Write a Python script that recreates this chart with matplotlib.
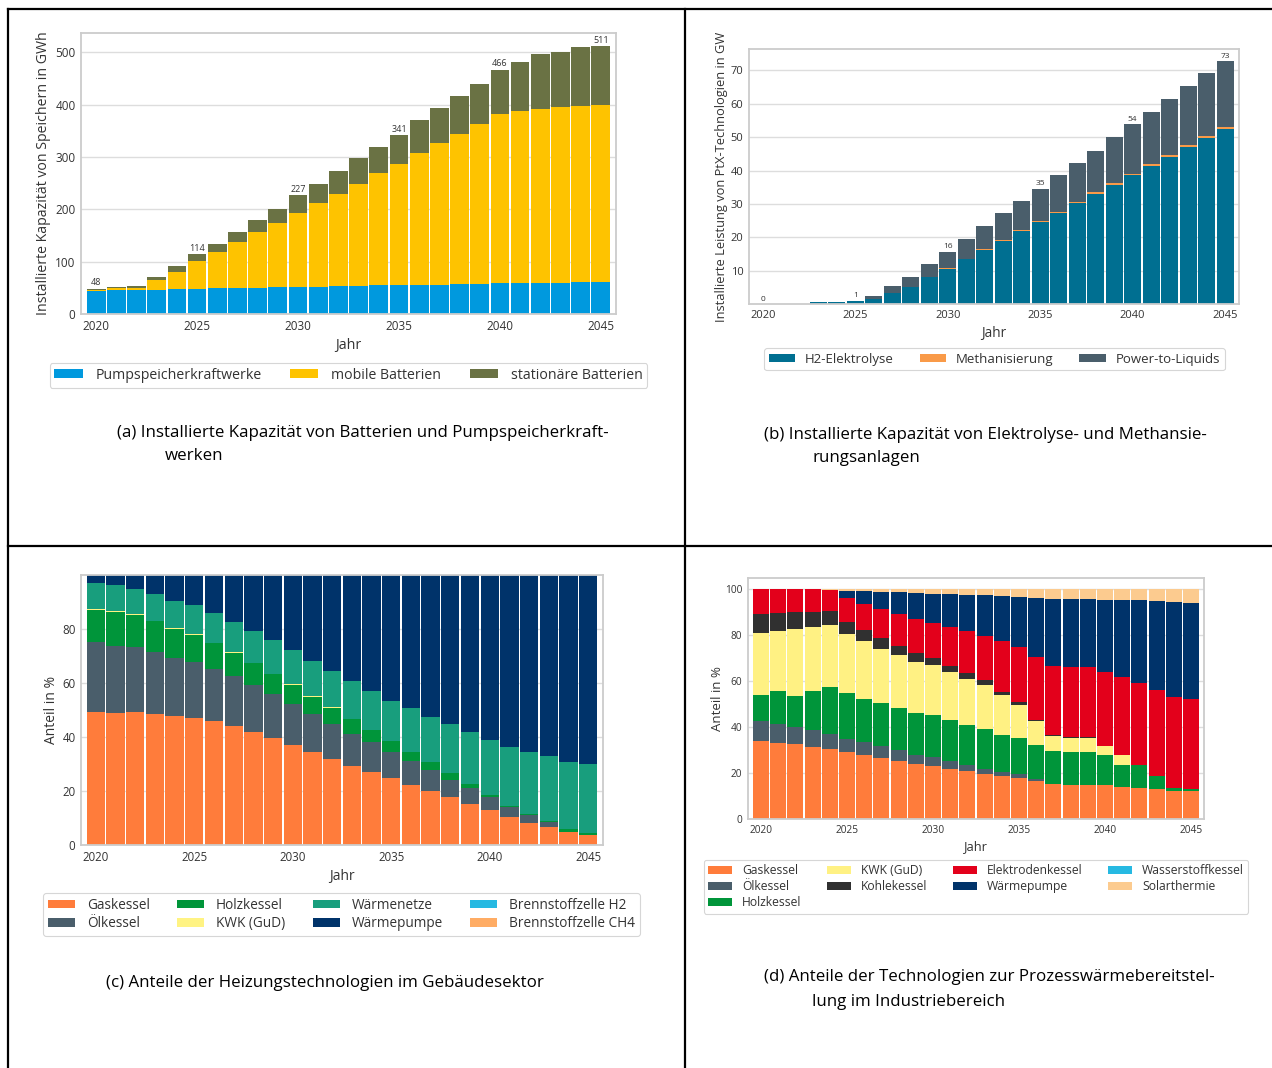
import matplotlib
matplotlib.use("Agg")
import matplotlib.pyplot as plt
import numpy as np
from matplotlib.lines import Line2D

plt.rcParams['font.family'] = ['Open Sans', 'DejaVu Sans']
TXT = '#333333'
plt.rcParams['text.color'] = TXT
plt.rcParams['axes.labelcolor'] = TXT
plt.rcParams['xtick.color'] = TXT
plt.rcParams['ytick.color'] = TXT

years = list(range(2020, 2046))
label_years = [2020, 2025, 2030, 2035, 2040, 2045]

# ---- (a) storage capacity in GWh
a_names = ['Pumpspeicherkraftwerke', 'mobile Batterien', 'stationäre Batterien']
a_pump = [44, 45, 46, 46, 47, 48, 49, 50, 50, 51, 51, 52, 53, 54, 55, 56, 56, 56, 58, 58, 59, 59, 60, 60, 61, 62]
a_mobile = [2, 4, 4, 18, 34, 53, 70, 87, 106, 123, 141, 159, 177, 195, 214, 231, 251, 270, 285, 304, 323, 329, 332, 335, 336, 338]
a_stat = [2, 2, 4, 7, 10, 13, 15, 20, 23, 27, 35, 38, 43, 48, 50, 54, 64, 67, 73, 78, 84, 93, 104, 106, 113, 111]
a_colors = ['#0099de', '#fec300', '#6a7244']

# ---- (b) PtX capacity in GW
b_names = ['H2-Elektrolyse', 'Methanisierung', 'Power-to-Liquids']
b_h2 = [0, 0, 0, 0.5, 0.7, 0.9, 1.6, 3.2, 5.2, 8.0, 10.6, 13.4, 16.2, 19.0, 21.8, 24.5, 27.3, 30.2, 33.1, 35.8, 38.6, 41.4, 44.2, 47.0, 49.8, 52.5]
b_meth = [0, 0, 0, 0, 0, 0, 0, 0, 0, 0, 0.2, 0.2, 0.2, 0.3, 0.3, 0.3, 0.3, 0.4, 0.4, 0.4, 0.5, 0.5, 0.5, 0.6, 0.6, 0.7]
b_ptl = [0, 0, 0, 0, 0, 0.1, 0.9, 2.1, 3.0, 3.9, 4.9, 6.0, 7.0, 8.0, 8.8, 9.8, 11.0, 11.7, 12.5, 13.9, 14.8, 15.8, 16.8, 17.7, 18.7, 19.6]
b_colors = ['#006f91', '#f99a48', '#4a5e6b']

# ---- (c) heating technologies in buildings, %
c_names = ['Gaskessel', 'Ölkessel', 'Holzkessel', 'KWK (GuD)', 'Wärmenetze', 'Wärmepumpe',
           'Brennstoffzelle H2', 'Brennstoffzelle CH4']
c_gas = [49.2, 49.0, 49.4, 48.6, 47.8, 47.1, 45.8, 43.9, 41.8, 39.6, 37.2, 34.5, 31.9, 29.4, 27.1, 24.7, 22.2, 19.9, 17.7, 15.3, 13.0, 10.3, 8.2, 6.8, 4.8, 3.6]
c_oel = [25.9, 24.8, 23.8, 22.8, 21.5, 20.7, 19.4, 18.6, 17.6, 16.2, 15.1, 14.1, 13.0, 11.8, 11.1, 9.8, 8.9, 8.0, 6.5, 5.7, 4.7, 3.7, 2.8, 1.7, 0, 0]
c_holz = [11.9, 12.6, 12.0, 11.4, 10.7, 10.1, 9.6, 8.6, 8.0, 7.6, 7.1, 6.4, 5.9, 5.4, 4.3, 4.1, 3.4, 2.7, 2.3, 1.5, 0.9, 0.4, 0.4, 0.5, 1.0, 0.7]
c_kwk = [0.3, 0.1, 0.4, 0.1, 0.2, 0.3, 0.2, 0.3, 0.1, 0.1, 0.1, 0.3, 0.2, 0.2, 0.1, 0.1, 0.1, 0.1, 0.1, 0, 0, 0, 0, 0, 0, 0]
c_netz = [9.6, 9.7, 9.3, 10.1, 10.3, 10.7, 10.9, 11.3, 11.9, 12.4, 12.7, 13.0, 13.6, 14.0, 14.6, 14.8, 16.0, 16.8, 18.1, 19.3, 20.4, 21.9, 23.1, 24.0, 25.1, 25.6]
c_wp = [3.1, 3.8, 5.1, 7.0, 9.5, 11.1, 14.1, 17.3, 20.6, 24.1, 27.8, 31.7, 35.4, 39.2, 42.8, 46.5, 49.4, 52.5, 55.3, 58.2, 61.0, 63.7, 65.5, 67.0, 69.1, 70.1]
c_bzh2 = [0] * 26
c_bzch4 = [0] * 26
c_colors = ['#ff7c3b', '#4a5e6b', '#00953a', '#fff383', '#189e7d', '#00336a', '#26b9e2', '#ffac64']

# ---- (d) process heat in industry, %
d_names = ['Gaskessel', 'Ölkessel', 'Holzkessel', 'KWK (GuD)', 'Kohlekessel', 'Elektrodenkessel',
           'Wärmepumpe', 'Wasserstoffkessel', 'Solarthermie']
d_gas = [33.9, 33.2, 32.5, 31.3, 30.4, 29.0, 27.8, 26.5, 25.3, 23.9, 23.1, 21.7, 20.7, 19.4, 18.6, 17.9, 16.4, 15.3, 15.0, 15.0, 14.6, 14.0, 13.7, 13.2, 12.1, 12.1]
d_oel = [8.7, 8.1, 7.5, 7.3, 6.7, 5.9, 5.8, 5.2, 4.7, 4.2, 4.0, 3.6, 2.9, 2.6, 1.9, 1.5, 1.2, 0, 0, 0, 0, 0, 0, 0, 0, 0]
d_holz = [11.3, 14.4, 13.7, 17.0, 20.4, 20.0, 18.9, 18.7, 18.2, 17.9, 18.2, 17.9, 17.3, 17.0, 16.3, 15.7, 14.6, 14.2, 14.3, 14.3, 13.2, 9.7, 9.7, 5.7, 1.4, 1.1]
d_kwk = [27.0, 26.4, 29.1, 28.1, 27.1, 25.6, 24.9, 23.8, 23.1, 22.6, 21.7, 20.7, 20.1, 19.5, 17.2, 14.5, 10.4, 6.6, 6.1, 6.1, 3.8, 4.0, 0, 0, 0, 0]
d_kohle = [8.5, 7.6, 7.2, 6.5, 6.2, 5.5, 5.0, 4.7, 4.2, 3.6, 3.0, 2.9, 2.6, 1.9, 1.5, 1.2, 0.5, 0.3, 0.3, 0.3, 0, 0, 0, 0, 0, 0]
d_elek = [10.6, 10.3, 10.0, 9.8, 9.0, 10.4, 11.3, 12.5, 13.9, 14.8, 15.6, 17.0, 18.4, 19.5, 22.2, 24.2, 27.6, 30.4, 30.5, 30.7, 32.3, 34.0, 35.8, 37.4, 39.6, 39.1]
d_wp = [0, 0, 0, 0, 0, 2.9, 5.7, 7.4, 9.4, 11.5, 12.5, 14.2, 15.8, 17.6, 19.4, 21.8, 25.7, 29.1, 29.6, 29.4, 31.4, 33.6, 36.1, 38.7, 41.5, 42.0]
d_h2 = [0] * 26
d_solar = [0, 0, 0, 0, 0.2, 0.7, 0.6, 1.2, 1.2, 1.5, 1.9, 2.0, 2.2, 2.5, 2.9, 3.2, 3.6, 4.1, 4.2, 4.2, 4.7, 4.7, 4.7, 5.0, 5.4, 5.7]
d_colors = ['#ff7c3b', '#4a5e6b', '#00953a', '#fff183', '#303030', '#e3001b', '#00336a', '#26b9e2', '#fccb8f']

captions = {
    'a': ['(a) Installierte Kapazität von Batterien und Pumpspeicherkraft-', 'werken'],
    'b': ['(b) Installierte Kapazität von Elektrolyse- und Methansie-', 'rungsanlagen'],
    'c': ['(c) Anteile der Heizungstechnologien im Gebäudesektor'],
    'd': ['(d) Anteile der Technologien zur Prozesswärmebereitstel-', 'lung im Industriebereich'],
}

W, H = 1272, 1068
fig = plt.figure(figsize=(W / 100, H / 100), dpi=100)


def add_ax(l, t, r, b):
    return fig.add_axes([l / W, 1 - b / H, (r - l) / W, (b - t) / H])


def style(ax, tick_fs):
    for s in ax.spines.values():
        s.set_color('#cccccc')
        s.set_linewidth(1.3)
    ax.set_axisbelow(True)
    ax.yaxis.grid(True, color='#dddddd', linewidth=1.0)
    ax.xaxis.grid(False)
    ax.tick_params(length=0, labelsize=tick_fs, pad=4)
    ax.set_xlim(2019.25, 2045.75)
    ax.set_xticks(label_years)


def stack(ax, series, colors, names):
    bottom = np.zeros(len(years))
    for vals, col, nm in zip(series, colors, names):
        v = np.array(vals, dtype=float)
        ax.bar(years, v, bottom=bottom, width=0.93, color=col, edgecolor='none',
               linewidth=0, label=nm)
        bottom = bottom + v
    return bottom


def legend(ax, ncol, cx, top, fs, handlelen=2.0, colsp=2.0, htp=0.85, lsp=0.3):
    leg = ax.legend(loc='upper center', bbox_to_anchor=(cx / W, 1 - top / H),
                    bbox_transform=fig.transFigure, ncol=ncol, fontsize=fs,
                    frameon=True, handlelength=handlelen, handleheight=0.6,
                    columnspacing=colsp, borderaxespad=0, borderpad=0.35,
                    labelspacing=lsp, handletextpad=htp)
    leg.get_frame().set_edgecolor('#cccccc')
    leg.get_frame().set_linewidth(0.8)
    return leg


# ---------------- panel a
ax = add_ax(81, 33, 616, 314)
style(ax, 8.5)
tot = stack(ax, [a_pump, a_mobile, a_stat], a_colors, a_names)
ax.set_ylim(0, tot.max() * 1.05)
ax.set_yticks([0, 100, 200, 300, 400, 500])
for yv in label_years:
    i = years.index(yv)
    ax.text(yv, tot[i] + 3, f'{tot[i]:.0f}', ha='center', va='bottom', fontsize=6.5)
ax.set_xlabel('Jahr', fontsize=10.3, labelpad=4)
ax.set_ylabel('Installierte Kapazität von Speichern in GWh', fontsize=10.2)
ax.yaxis.set_label_coords(-0.056, 0.5)
legend(ax, 3, 348.5, 363, 10.2, colsp=2.0, htp=0.9)

# ---------------- panel b
ax = add_ax(749, 49, 1239, 304)
style(ax, 8)
tot = stack(ax, [b_h2, b_meth, b_ptl], b_colors, b_names)
ax.set_ylim(0, tot.max() * 1.05)
ax.set_yticks([10, 20, 30, 40, 50, 60, 70])
for yv in label_years:
    i = years.index(yv)
    ax.text(yv, tot[i] + 0.4, f'{tot[i]:.0f}', ha='center', va='bottom', fontsize=6)
ax.set_xlabel('Jahr', fontsize=9.8, labelpad=4)
ax.set_ylabel('Installierte Leistung von PtX-Technologien in GW', fontsize=9.3)
ax.yaxis.set_label_coords(-0.043, 0.5)
legend(ax, 3, 994.5, 348, 9.5, colsp=1.95, htp=0.75)

# ---------------- panel c
ax = add_ax(81, 575, 603, 845)
style(ax, 8.3)
stack(ax, [c_gas, c_oel, c_holz, c_kwk, c_netz, c_wp, c_bzh2, c_bzch4], c_colors, c_names)
ax.set_ylim(0, 100)
ax.set_yticks([0, 20, 40, 60, 80])
ax.set_xlabel('Jahr', fontsize=10, labelpad=4)
ax.set_ylabel('Anteil in %', fontsize=10)
ax.yaxis.set_label_coords(-0.042, 0.5)
legend(ax, 4, 341.5, 893, 9.8, colsp=2.0, htp=0.87, lsp=0.25)

# ---------------- panel d
ax = add_ax(748, 578, 1204, 819)
style(ax, 7.3)
stack(ax, [d_gas, d_oel, d_holz, d_kwk, d_kohle, d_elek, d_wp, d_h2, d_solar], d_colors, d_names)
ax.set_ylim(0, 105)
ax.set_yticks([0, 20, 40, 60, 80, 100])
ax.set_xlabel('Jahr', fontsize=9.3, labelpad=3)
ax.set_ylabel('Anteil in %', fontsize=9.5)
ax.yaxis.set_label_coords(-0.052, 0.5)
legend(ax, 4, 976, 860, 8.7, colsp=2.1, htp=0.83, lsp=0.25)

# ---------------- captions
cap_fs = 12.2
fig.text(117 / W, 1 - 433 / H, captions['a'][0], fontsize=cap_fs, va='center', ha='left', color='black')
fig.text(165 / W, 1 - 456 / H, captions['a'][1], fontsize=cap_fs, va='center', ha='left', color='black')
fig.text(764 / W, 1 - 435 / H, captions['b'][0], fontsize=cap_fs, va='center', ha='left', color='black')
fig.text(812 / W, 1 - 458 / H, captions['b'][1], fontsize=cap_fs, va='center', ha='left', color='black')
fig.text(106 / W, 1 - 983 / H, captions['c'][0], fontsize=cap_fs, va='center', ha='left', color='black')
fig.text(764 / W, 1 - 977 / H, captions['d'][0], fontsize=cap_fs, va='center', ha='left', color='black')
fig.text(812 / W, 1 - 1002 / H, captions['d'][1], fontsize=cap_fs, va='center', ha='left', color='black')

# ---------------- table frame lines
lw = 1.6
fig.add_artist(Line2D([8 / W, 1], [1 - 9 / H, 1 - 9 / H], color='black', lw=lw, transform=fig.transFigure))
fig.add_artist(Line2D([8 / W, 1], [1 - 546 / H, 1 - 546 / H], color='black', lw=lw, transform=fig.transFigure))
fig.add_artist(Line2D([8 / W, 8 / W], [0, 1 - 9 / H], color='black', lw=lw, transform=fig.transFigure))
fig.add_artist(Line2D([685 / W, 685 / W], [0, 1 - 9 / H], color='black', lw=lw, transform=fig.transFigure))

fig.savefig('out.png', dpi=100)
